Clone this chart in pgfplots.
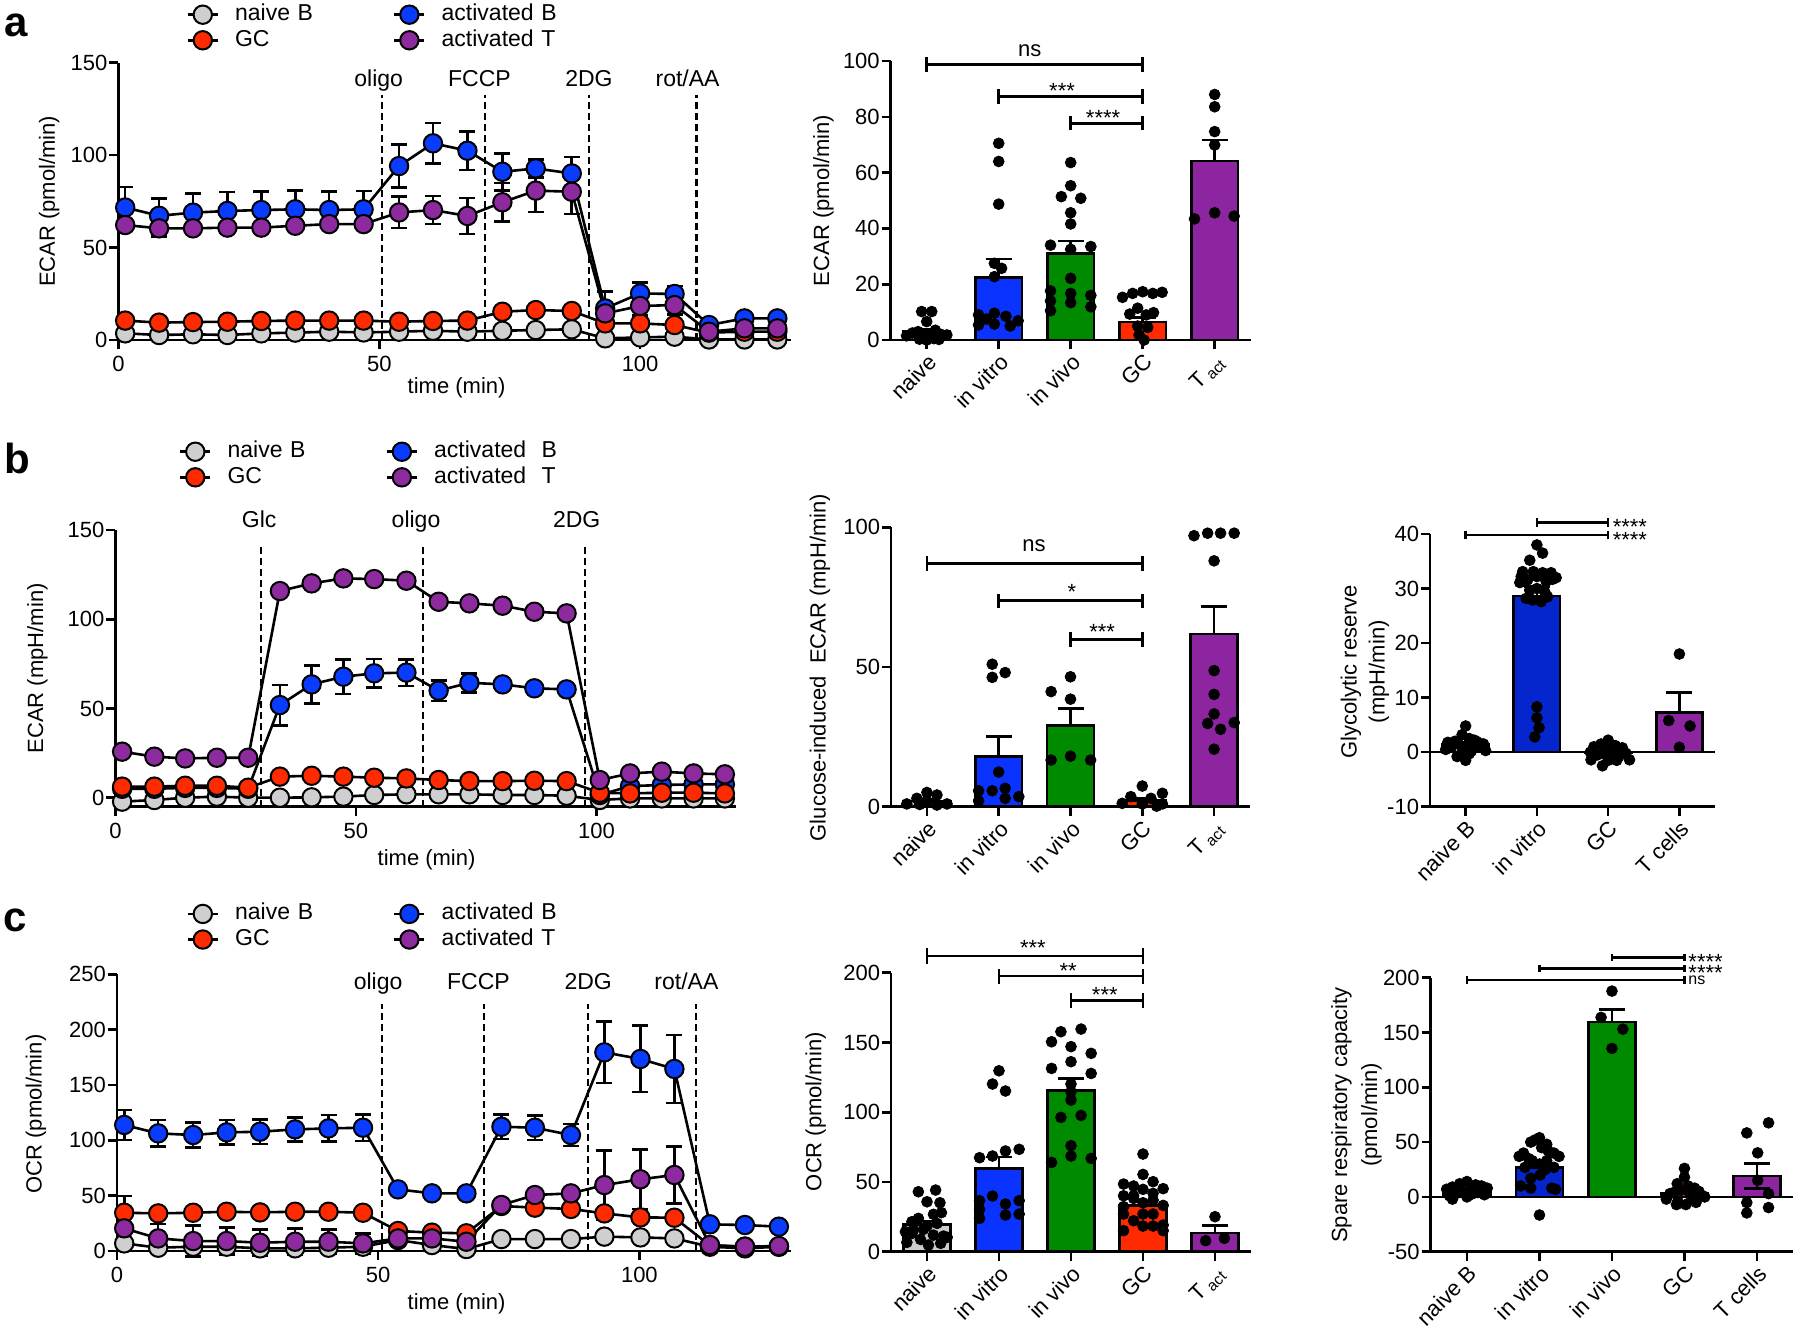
\documentclass[border=0pt]{standalone}
\usepackage{pgfplots}
\pgfplotsset{compat=1.18}
\usepackage{fontspec}
\setmainfont{Liberation Sans}

\definecolor{grayM}{HTML}{CFCFCF}
\definecolor{redM}{HTML}{FF2B00}
\definecolor{blueM}{HTML}{0A3CFF}
\definecolor{purpleM}{HTML}{8C2A9E}
\definecolor{blueB}{HTML}{0A33FF}
\definecolor{blueD}{HTML}{0426CC}
\definecolor{greenB}{HTML}{008A00}
\definecolor{redB}{HTML}{FF2A00}
\definecolor{purpleB}{HTML}{8E25A0}
\definecolor{grayB}{HTML}{CCCCCC}

\newcommand\fs{\fontsize{11}{13}\selectfont}
\newcommand\fl{\fontsize{11.5}{13}\selectfont}
\newcommand\brk[5]{\draw[line width=1.3pt] (axis cs:#1,#3) -- (axis cs:#1,#5) (axis cs:#1,#4) -- (axis cs:#2,#4) (axis cs:#2,#3) -- (axis cs:#2,#5);}

\pgfplotsset{
  gp/.style={scale only axis, axis lines=left, axis line style={-, line width=1.3pt},
    tick style={line width=1.3pt, black}, tick align=outside, major tick length=4.5pt,
    clip=false, ticklabel style={font=\fs}, label style={font=\fs},
    yticklabel style={inner sep=0.8pt},
    /pgf/number format/assume math mode=true, minor tick num=0},
  glc/.style={gp, xmin=0, xmax=129, xtick={0,50,100}, xlabel={time (min)},
    legend columns=2, legend cell align=left,
    legend image code/.code={\draw[mark repeat=2,mark phase=2,##1] plot coordinates {(0pt,0pt) (7.5pt,0pt) (15pt,0pt)};},
    legend style={draw=none, fill=none, anchor=west, inner sep=0pt, outer sep=0pt, row sep=1.8pt,
      nodes={inner sep=0pt, text width=70pt, align=left, font=\fl, text height=8.5pt, text depth=2.5pt},
      /tikz/every odd column/.append style={column sep=8pt},
      /tikz/every even column/.append style={column sep=9pt}}},
  gser/.style={black, line width=1.3pt, mark=*, mark size=4.6pt, mark options={fill=#1, draw=black, line width=1pt, solid}},
  gerr/.style={error bars/.cd, y dir=both, y explicit, error bar style={line width=1.3pt, black}, error mark options={rotate=90, line width=1.3pt, black, mark size=4pt}},
  gvl/.style={black, line width=1.1pt, dash pattern=on 3.5pt off 2pt, forget plot},
  gbc/.style={gp, xmin=-0.5, xmax=4.5, xtick={0,...,4}, xticklabel style={rotate=45, anchor=north east, inner sep=1pt}},
  gbar/.style={ybar, bar width=0.65, bar shift=0pt, fill=#1, draw=black, line width=1.3pt, error bars/.cd, y dir=plus, y explicit, error bar style={line width=1.3pt, black}, error mark options={rotate=90, line width=1.3pt, black, mark size=6.5pt}},
  gdots/.style={only marks, mark=*, mark size=2.7pt, black},
}

\begin{document}
\begin{tikzpicture}
\useasboundingbox (0pt,0pt) rectangle (900pt,-665pt);
\node[font=\bfseries\fontsize{21}{24}\selectfont] at (8.15pt,-12.5pt) {a};
\node[font=\bfseries\fontsize{21}{24}\selectfont] at (8.5pt,-229pt) {b};
\node[font=\bfseries\fontsize{21}{24}\selectfont] at (7.8pt,-460pt) {c};

% ---------------- a: line chart
\begin{axis}[glc, at={(59.2pt,-170pt)}, anchor=south west, width=336.5pt, height=138.65pt,
  ymin=0, ymax=150, ytick={0,50,100,150}, ylabel={ECAR (pmol/min)},
  ylabel style={at={(axis description cs:-0.103,0.5)}, anchor=center},
  xlabel style={at={(axis description cs:0.5025,-0.173)}, anchor=center},
  legend style={at={(axis description cs:0.1012,1.127)}}]
\addlegendimage{gser=grayM}\addlegendentry{naive B}
\addlegendimage{gser=blueM}\addlegendentry{activated B}
\addlegendimage{gser=redM}\addlegendentry{GC}
\addlegendimage{gser=purpleM}\addlegendentry{activated T}
\addplot[gvl] coordinates {(50.6,0) (50.6,132.5)};
\addplot[gvl] coordinates {(70.2,0) (70.2,132.5)};
\addplot[gvl] coordinates {(90.2,0) (90.2,132.5)};
\addplot[gvl] coordinates {(110.8,0) (110.8,132.5)};
\addplot[gser=grayM, forget plot] coordinates {(1.3,3.6) (7.8,2.7) (14.3,3.1) (20.9,2.7) (27.4,3.6) (33.9,4.0) (40.4,4.5) (47.0,4.1) (53.8,4.5) (60.3,5.0) (66.9,4.5) (73.6,5.0) (80.0,5.4) (86.9,5.8) (93.3,0.9) (100.0,1.4) (106.6,1.8) (113.2,0.3) (120.0,0.3) (126.3,0.3)};
\addplot[gser=blueM, forget plot, gerr] coordinates {(1.3,71.7) +- (0,11) (7.8,67.2) +- (0,9.5) (14.3,68.9) +- (0,10.4) (20.9,69.8) +- (0,10.2) (27.4,70.3) +- (0,10) (33.9,70.7) +- (0,10.3) (40.4,70.3) +- (0,10) (47.0,70.7) +- (0,10) (53.8,94.1) +- (0,11.5) (60.3,106.4) +- (0,11) (66.9,102.4) +- (0,10.5) (73.6,91.0) +- (0,10) (80.0,92.8) +- (0,5) (86.9,90.1) +- (0,9) (93.3,17.1) +- (0,9) (100.0,25.2) +- (0,6) (106.6,24.9) +- (0,4.3) (113.2,8.1) +- (0,1) (120.0,11.7) +- (0,1) (126.3,11.7) +- (0,1)};
\addplot[gser=redM, forget plot] coordinates {(1.3,10.5) (7.8,9.4) (14.3,9.7) (20.9,9.9) (27.4,10.3) (33.9,10.5) (40.4,10.5) (47.0,10.5) (53.8,9.9) (60.3,10.3) (66.9,10.5) (73.6,15.3) (80.0,16.2) (86.9,15.7) (93.3,9.0) (100.0,9.0) (106.6,8.1) (113.2,4.0) (120.0,4.5) (126.3,4.5)};
\addplot[gser=purpleM, forget plot, gerr] coordinates {(1.3,62.2) +- (0,3) (7.8,60.4) +- (0,4.5) (14.3,60.4) +- (0,3) (20.9,60.8) +- (0,2.5) (27.4,60.8) +- (0,2.5) (33.9,61.8) +- (0,2) (40.4,62.7) +- (0,2) (47.0,62.7) +- (0,2) (53.8,69.0) +- (0,8.5) (60.3,70.3) +- (0,7.5) (66.9,67.1) +- (0,9.8) (73.6,74.5) +- (0,10.5) (80.0,80.8) +- (0,11.5) (86.9,80.2) +- (0,12) (93.3,14.4) +- (0,3) (100.0,18.4) +- (0,5) (106.6,18.9) +- (0,5) (113.2,4.5) +- (0,1) (120.0,6.3) +- (0,1) (126.3,6.3) +- (0,1)};
\node[font=\fl, anchor=base] at (axis cs:49.9,137) {oligo};
\node[font=\fl, anchor=base] at (axis cs:69.2,137) {FCCP};
\node[font=\fl, anchor=base] at (axis cs:90.2,137) {2DG};
\node[font=\fl, anchor=base] at (axis cs:109.1,137) {rot/AA};
\end{axis}

% ---------------- a: bar chart
\begin{axis}[gbc, at={(445.35pt,-170pt)}, anchor=south west, width=180pt, height=139.5pt,
  ymin=0, ymax=100, ytick={0,20,...,100},
  xticklabels={naive,in vitro,in vivo,GC,T\,\textsubscript{act}},
  ylabel={ECAR (pmol/min)}, ylabel style={at={(axis description cs:-0.187,0.5)}, anchor=center}]
\addplot[gbar=grayB] coordinates {(0,3.0) +- (0,1)};
\addplot[gbar=blueB] coordinates {(1,22.5) +- (0,6.5)};
\addplot[gbar=greenB] coordinates {(2,31) +- (0,4.5)};
\addplot[gbar=redB] coordinates {(3,6.5) +- (0,1.5)};
\addplot[gbar=purpleB] coordinates {(4,64.2) +- (0,7.5)};
\addplot[gdots] coordinates {(-0.07,10.2) (0.07,10.2) (0,6.6) (-0.28,1.5) (-0.2,2.5) (-0.12,3) (-0.05,1) (0.05,2) (0.12,3.5) (0.2,2) (0.28,1.8) (0.17,0.2) (0,0) (-0.1,0.3) (0.1,0.5)
 (1,70.5) (1,64) (1,48.7) (0.94,27.5) (1.04,25.7) (0.94,22.7) (0.72,9) (0.94,9.6) (1.1,8.5) (1.27,6.9) (0.72,5.4) (0.94,5.7) (1.16,5) (0.83,7.5)
 (2,63.6) (2,55.3) (1.87,51.4) (2.14,50.8) (2,45.6) (2,41.6) (1.72,34) (2,32.5) (2.28,33.5) (2,22.1) (1.72,17.6) (2,16.7) (2.28,16) (1.72,14) (2,13.4) (2.28,11.9) (1.72,10.5)
 (2.72,15.3) (2.86,16.7) (3,17.3) (3.14,16.7) (3.27,17.1) (2.93,11.4) (2.82,9.3) (3.05,9) (3.15,9.8) (2.93,5) (3.07,4.5) (2.95,1.8) (3.02,0)
 (4,88) (4,83.6) (4,74.7) (4,69.9) (4,45.6) (3.72,43.4) (4.27,44.4)};
\brk{0}{3}{96.2}{98.8}{101.4}
\brk{1}{3}{84.6}{87.2}{89.8}
\brk{2}{3}{75.1}{77.7}{80.3}
\node[font=\fs] at (axis cs:1.43,103.6) {ns};
\node[font=\fs] at (axis cs:1.88,89.4) {***};
\node[font=\fs] at (axis cs:2.45,79.6) {****};
\end{axis}

% ---------------- b: line chart
\begin{axis}[glc, at={(57.7pt,-403.3pt)}, anchor=south west, width=310.25pt, height=138.3pt,
  ymin=-5, ymax=150, ytick={0,50,100,150}, ylabel={ECAR (mpH/min)},
  ylabel style={at={(axis description cs:-0.1255,0.5)}, anchor=center},
  xlabel style={at={(axis description cs:0.5015,-0.193)}, anchor=center},
  legend style={at={(axis description cs:0.1025,1.2368)}}]
\addlegendimage{gser=grayM}\addlegendentry{naive B}
\addlegendimage{gser=blueM}\addlegendentry{activated\ \ B}
\addlegendimage{gser=redM}\addlegendentry{GC}
\addlegendimage{gser=purpleM}\addlegendentry{activated\ \ T}
\addplot[gvl] coordinates {(30.2,-5) (30.2,142.5)};
\addplot[gvl] coordinates {(63.9,-5) (63.9,142.5)};
\addplot[gvl] coordinates {(97.6,-5) (97.6,142.5)};
\addplot[gser=grayM, forget plot] coordinates {(1.4,-2.2) (8.1,-1.3) (14.5,0) (21.1,0.6) (27.6,0) (34.2,0) (40.8,0.2) (47.4,0.6) (53.8,1.5) (60.5,1.9) (67.2,1.9) (73.6,1.9) (80.5,1.5) (87.1,1.5) (93.8,1.1) (100.7,-1.3) (107.0,-0.4) (113.6,-0.4) (120.2,-0.4) (126.7,-0.4)};
\addplot[gser=blueM, forget plot, gerr] coordinates {(1.4,5.0) +- (0,0) (8.1,5.0) +- (0,0) (14.5,5.5) +- (0,0) (21.1,5.5) +- (0,0) (27.6,5.0) +- (0,0) (34.2,51.9) +- (0,11.3) (40.8,63.5) +- (0,10.7) (47.4,67.8) +- (0,9.7) (53.8,69.7) +- (0,8) (60.5,70.1) +- (0,7.5) (67.2,60.0) +- (0,5.8) (73.6,64.4) +- (0,5.3) (80.5,63.5) +- (0,1) (87.1,61.3) +- (0,1) (93.8,60.7) +- (0,1) (100.7,1.5) +- (0,0) (107.0,6.5) +- (0,0) (113.6,7.1) +- (0,0) (120.2,7.5) +- (0,0) (126.7,7.5) +- (0,0)};
\addplot[gser=redM, forget plot] coordinates {(1.4,6.2) (8.1,6.2) (14.5,6.7) (21.1,6.7) (27.6,5.6) (34.2,11.8) (40.8,12.3) (47.4,11.8) (53.8,11.2) (60.5,10.8) (67.2,9.9) (73.6,9.3) (80.5,9.3) (87.1,9.5) (93.8,9.3) (100.7,2.8) (107.0,2.4) (113.6,2.8) (120.2,2.8) (126.7,2.4)};
\addplot[gser=purpleM, forget plot] coordinates {(1.4,25.8) (8.1,23) (14.5,22) (21.1,22.4) (27.6,22.4) (34.2,115.8) (40.8,120.1) (47.4,122.9) (53.8,122.5) (60.5,121.6) (67.2,109.8) (73.6,108.9) (80.5,107.6) (87.1,104.2) (93.8,103.3) (100.7,9.9) (107.0,13.6) (113.6,14.6) (120.2,13.6) (126.7,13.1)};
\node[font=\fl, anchor=base] at (axis cs:29.9,151.5) {Glc};
\node[font=\fl, anchor=base] at (axis cs:62.5,151.5) {oligo};
\node[font=\fl, anchor=base] at (axis cs:95.9,151.5) {2DG};
\end{axis}

% ---------------- b: bar chart
\begin{axis}[gbc, at={(445.5pt,-403.35pt)}, anchor=south west, width=179.5pt, height=139.7pt,
  ymin=0, ymax=100, ytick={0,50,100},
  xticklabels={naive,in vitro,in vivo,GC,T\,\textsubscript{act}},
  ylabel={Glucose-induced\ \ ECAR (mpH/min)}, ylabel style={at={(axis description cs:-0.198,0.498)}, anchor=center}]
\addplot[gbar=grayB] coordinates {(0,2.0) +- (0,0.6)};
\addplot[gbar=blueB] coordinates {(1,17.9) +- (0,7.2)};
\addplot[gbar=greenB] coordinates {(2,29) +- (0,6.2)};
\addplot[gbar=redB] coordinates {(3,2.2) +- (0,0.8)};
\addplot[gbar=purpleB] coordinates {(4,61.8) +- (0,9.8)};
\addplot[gdots] coordinates {(0,5.1) (0.14,4.2) (-0.14,3) (0,2) (-0.28,1) (0.28,1) (0.14,0.6) (-0.1,0.8)
 (0.91,51) (1.09,48) (0.91,46.3) (1,12.4) (0.72,5.7) (0.91,5.7) (1.09,6.6) (1.09,3) (1.28,3.6) (0.72,2.1)
 (2,46.5) (1.73,41.2) (2,38.5) (1.73,16.7) (2,18.1) (2.28,16.7)
 (3,7.4) (3.28,4.8) (2.84,3.6) (3.12,3) (2.72,1.2) (3,1) (3.28,1) (3.2,0.2)
 (3.72,97) (3.91,97.9) (4.09,97.9) (4.28,97.9) (4,88) (4,48.7) (4,40.2) (4,33.2) (3.91,29.8) (4.28,30.1) (4.09,27.7) (4,20.6)};
\brk{0}{3}{84.5}{87.1}{89.7}
\brk{1}{3}{71.1}{73.7}{76.3}
\brk{2}{3}{57.3}{59.9}{62.5}
\node[font=\fs] at (axis cs:1.49,93.3) {ns};
\node[font=\fs] at (axis cs:2.02,76.9) {*};
\node[font=\fs] at (axis cs:2.44,62.7) {***};
\end{axis}

% ---------------- b: glycolytic reserve
\begin{axis}[gbc, xmax=3.5, xtick={0,...,3}, at={(715pt,-403.35pt)}, anchor=south west, width=142.5pt, height=136.35pt,
  ymin=-10, ymax=40, ytick={-10,0,...,40},
  xticklabels={naive B,in vitro,GC,T cells},
  ylabel={Glycolytic reserve\\[1pt](mpH/min)}, ylabel style={at={(axis description cs:-0.228,0.495)}, anchor=center, align=center}]
\draw[line width=1.3pt] (axis cs:-0.5,0) -- (axis cs:3.5,0);
\addplot[gbar=grayB] coordinates {(0,1.4) +- (0,0.4)};
\addplot[gbar=blueD] coordinates {(1,28.6) +- (0,1.8)};
\addplot[gbar=redB] coordinates {(2,-0.1) +- (0,0.3)};
\addplot[gbar=purpleB] coordinates {(3,7.3) +- (0,3.6)};
\addplot[gdots] coordinates {(0,4.8) (-0.05,3.2) (0.05,2.5) (-0.15,2) (0.15,2) (-0.25,1.8) (0.25,1.5) (-0.1,1.5) (0.1,1.2) (-0.2,1) (0.2,1) (0,0.8) (-0.28,0.5) (0.28,0.3) (-0.05,0) (0.05,-0.3) (-0.12,-0.8) (0,-1.5) (0.12,2.2) (0.2,1.6) (-0.22,1.3) (0.08,0.2)
 (1,38) (1.08,36.5) (0.9,35.2) (0.8,33.1) (0.95,33.1) (1.08,32.9) (1.2,32.9) (1.27,32) (0.76,31.1) (0.87,31.6) (1.13,31.3) (1,30) (0.9,29.7) (1.11,29.4) (0.85,28.2) (0.94,27.9) (1.06,27.6) (1.15,28.5) (1,32.2) (1.22,31.7) (0.78,32.2) (1,8.3) (1,6.3) (1.03,4.5) (0.97,2.8)
 (2,2.2) (1.9,1.5) (2.1,1.2) (1.8,1) (2.2,0.8) (1.95,0.5) (2.05,0.2) (1.75,0) (2.25,-0.2) (1.85,-0.5) (2.15,-0.8) (1.76,-1.4) (2.3,-1.4) (2,-1.5) (2.12,-1.5) (1.92,-2.5) (2.05,0.5) (1.95,-0.3)
 (3,18) (2.85,5.8) (3.15,4.8) (3,0.9)};
\brk{0}{2}{39.0}{39.8}{40.6}
\brk{1}{2}{41.3}{42.1}{42.9}
\node[font=\fs, anchor=west, inner sep=0pt] at (axis cs:2.06,38.96) {****};
\node[font=\fs, anchor=west, inner sep=0pt] at (axis cs:2.06,41.26) {****};
\end{axis}

% ---------------- c: line chart
\begin{axis}[glc, at={(58.45pt,-625.5pt)}, anchor=south west, width=337pt, height=138.35pt,
  ymin=0, ymax=250, ytick={0,50,...,250}, ylabel={OCR (pmol/min)},
  ylabel style={at={(axis description cs:-0.12,0.495)}, anchor=center},
  xlabel style={at={(axis description cs:0.504,-0.19)}, anchor=center},
  legend style={at={(axis description cs:0.1033,1.172)}}]
\addlegendimage{gser=grayM}\addlegendentry{naive B}
\addlegendimage{gser=blueM}\addlegendentry{activated B}
\addlegendimage{gser=redM}\addlegendentry{GC}
\addlegendimage{gser=purpleM}\addlegendentry{activated T}
\addplot[gvl] coordinates {(50.8,0) (50.8,222.9)};
\addplot[gvl] coordinates {(70.3,0) (70.3,222.9)};
\addplot[gvl] coordinates {(90.2,0) (90.2,222.9)};
\addplot[gvl] coordinates {(110.8,0) (110.8,222.9)};
\addplot[gser=grayM, forget plot] coordinates {(1.4,6.9) (7.9,3) (14.6,3.9) (21.0,3.9) (27.4,2.4) (34.1,2.4) (40.5,3) (47.1,3.9) (53.8,9.9) (60.3,5.4) (66.9,1.8) (73.6,10.8) (80.0,10.8) (86.9,10.8) (93.3,13) (100.2,12.3) (106.7,11.4) (113.5,3.9) (120.2,2.4) (126.7,3.9)};
\addplot[gser=blueM, forget plot, gerr] coordinates {(1.4,113.9) +- (0,13.5) (7.9,106.3) +- (0,12) (14.6,104.8) +- (0,11.5) (21.0,107.2) +- (0,11) (27.4,107.8) +- (0,11) (34.1,109.9) +- (0,11) (40.5,110.8) +- (0,12) (47.1,111.4) +- (0,12) (53.8,55.7) +- (0,2) (60.3,52.1) +- (0,2) (66.9,52.1) +- (0,2) (73.6,112.3) +- (0,11) (80.0,111.4) +- (0,11) (86.9,104.8) +- (0,10) (93.3,179.5) +- (0,27.7) (100.2,173.5) +- (0,30) (106.7,164.5) +- (0,30.7) (113.5,24.1) +- (0,1) (120.2,23.5) +- (0,1) (126.7,22) +- (0,1)};
\addplot[gser=redM, forget plot, gerr] coordinates {(1.4,34.6) +- (0,15) (7.9,34) +- (0,3) (14.6,34.6) +- (0,3) (21.0,35.5) +- (0,3) (27.4,34.9) +- (0,3) (34.1,35.5) +- (0,3) (40.5,35.5) +- (0,3) (47.1,34.6) +- (0,3) (53.8,18.1) +- (0,2) (60.3,16.6) +- (0,2) (66.9,16) +- (0,2) (73.6,40.7) +- (0,3) (80.0,39.2) +- (0,3) (86.9,38) +- (0,3) (93.3,34) +- (0,3) (100.2,30.4) +- (0,3) (106.7,30.1) +- (0,3) (113.5,5) +- (0,1) (120.2,4) +- (0,1) (126.7,4) +- (0,1)};
\addplot[gser=purpleM, forget plot, gerr] coordinates {(1.4,20.5) +- (0,10) (7.9,11.4) +- (0,13) (14.6,9) +- (0,14) (21.0,9) +- (0,12) (27.4,7.5) +- (0,12) (34.1,8.4) +- (0,12) (40.5,8.4) +- (0,11) (47.1,6.9) +- (0,9) (53.8,11.4) +- (0,3) (60.3,11.4) +- (0,3) (66.9,8.4) +- (0,3) (73.6,41.6) +- (0,3) (80.0,50.6) +- (0,3) (86.9,52.1) +- (0,3) (93.3,59.6) +- (0,31) (100.2,64.8) +- (0,27) (106.7,68.7) +- (0,25.6) (113.5,5.4) +- (0,1) (120.2,3.9) +- (0,1) (126.7,4.5) +- (0,1)};
\node[font=\fl, anchor=base] at (axis cs:50,236) {oligo};
\node[font=\fl, anchor=base] at (axis cs:69.2,236) {FCCP};
\node[font=\fl, anchor=base] at (axis cs:90.2,236) {2DG};
\node[font=\fl, anchor=base] at (axis cs:109,236) {rot/AA};
\end{axis}

% ---------------- c: bar chart
\begin{axis}[gbc, at={(445.5pt,-625.85pt)}, anchor=south west, width=180pt, height=139.5pt,
  ymin=0, ymax=200, ytick={0,50,...,200},
  xticklabels={naive,in vitro,in vivo,GC,T\,\textsubscript{act}},
  ylabel={OCR (pmol/min)}, ylabel style={at={(axis description cs:-0.209,0.502)}, anchor=center}]
\addplot[gbar=grayB] coordinates {(0,19.6) +- (0,2.5)};
\addplot[gbar=blueB] coordinates {(1,59.5) +- (0,8.5)};
\addplot[gbar=greenB] coordinates {(2,115.5) +- (0,8.5)};
\addplot[gbar=redB] coordinates {(3,33) +- (0,2.8)};
\addplot[gbar=purpleB] coordinates {(4,13.5) +- (0,5.5)};
\addplot[gdots] coordinates {(-0.12,43) (0.12,44.2) (0,35.8) (0.18,35.1) (0.2,28) (-0.12,23.9) (-0.21,21.5) (0,18.4) (-0.3,14.3) (0.09,11.9) (0.28,10.3) (-0.28,6.7) (0.02,4.8) (0.19,6) (-0.19,15.5) (0.14,20.3) (-0.09,8.8) (0.23,11.2) (0.09,26.8) (-0.05,16) (-0.21,13.1)
 (1,129.7) (0.91,120.2) (1.09,115.2) (1.28,73.4) (1.09,72.2) (0.91,68.6) (0.73,67.4) (0.91,39.9) (0.73,36.6) (1.28,36.6) (1.09,34.2) (0.73,30.3) (1.09,26.3) (1.28,27) (0.73,23.9)
 (2.14,159.6) (1.86,157.7) (1.73,150.5) (2,147) (2.28,142.2) (2,136.2) (1.73,131.4) (2.28,127.8) (2,120.2) (2,114.7) (2,108.7) (1.86,96.3) (2.14,97.7) (2,76) (2,68.6) (2.28,66.9) (1.73,64)
 (3,70) (3,55.4) (2.73,48.5) (3.14,50.2) (2.87,47.1) (3.28,45.2) (3,44.7) (3.14,41.8) (2.73,40.1) (2.87,40.1) (3,35.1) (3.28,33.2) (2.73,27) (3,27) (3.14,27) (2.87,22.2) (3.28,19.1) (3,18.4) (3.14,18.4) (2.73,15.1) (3.28,15.1) (2.73,32.3) (3.14,37) (2.87,38.2)
 (4,25.1) (3.87,7.9) (4.13,9.6)};
\brk{0}{3}{206.6}{212}{217.4}
\brk{1}{3}{192.2}{197.6}{203}
\brk{2}{3}{174.6}{180}{185.4}
\node[font=\fs] at (axis cs:1.47,217.7) {***};
\node[font=\fs] at (axis cs:1.96,201) {**};
\node[font=\fs] at (axis cs:2.47,184.3) {***};
\end{axis}

% ---------------- c: spare respiratory capacity
\begin{axis}[gbc, at={(715.35pt,-625.85pt)}, anchor=south west, width=181.25pt, height=137pt,
  ymin=-50, ymax=200, ytick={-50,0,...,200},
  xticklabels={naive B,in vitro,in vivo,GC,T cells},
  ylabel={Spare respiratory capacity\\[2pt](pmol/min)}, ylabel style={at={(axis description cs:-0.205,0.499)}, anchor=center, align=center}]
\draw[line width=1.3pt] (axis cs:-0.5,0) -- (axis cs:4.5,0);
\addplot[gbar=grayB] coordinates {(0,4.9) +- (0,1)};
\addplot[gbar=blueD] coordinates {(1,27) +- (0,3)};
\addplot[gbar=greenB] coordinates {(2,159.5) +- (0,11.5)};
\addplot[gbar=redB] coordinates {(3,3) +- (0,1.5)};
\addplot[gbar=purpleB, y dir=both] coordinates {(4,19) +- (0,11.5)};
\addplot[gdots] coordinates {(0,14) (-0.1,12) (0.12,11) (0.2,10) (-0.2,9) (0.28,8) (-0.28,7) (0.06,6) (-0.06,5) (0.15,4) (-0.15,3) (0.24,2) (-0.24,1) (0,0) (-0.2,-2) (0.24,8.5) (-0.1,6.5) (0.1,3.5) (0.03,1.5)
 (1,54) (0.94,52) (0.88,50) (1.1,48) (1.03,45) (0.78,40) (1.2,40) (0.72,37) (1.27,37) (0.9,33) (1.1,33) (1,30) (0.8,27) (1.2,27) (1.08,25) (1.01,20) (0.88,17) (0.74,10) (1.17,8) (0.88,8) (1.22,7) (0.85,35) (1.12,42) (1,-16.5)
 (2,187.8) (1.85,163.8) (2.15,153.1) (2,135.5)
 (3,26) (3,18) (2.9,12) (3.05,10) (3.14,8) (2.95,6) (3.2,5) (2.8,3) (3.08,2) (3.25,1) (3.28,0) (2.75,-2) (2.91,-4) (2.89,-7) (3.02,-7) (3.16,-5) (2.85,4) (3.1,-1)
 (4.16,67.6) (3.86,58.4) (4.01,40.2) (4.01,15.2) (4.16,3) (3.86,-5.2) (4.16,-9.7) (3.86,-14.6)};
\brk{0}{3}{194.4}{197.9}{201.4}
\brk{1}{3}{205}{208.5}{212}
\brk{2}{3}{215.1}{218.6}{222.1}
\node[font=\fontsize{8}{9}\selectfont, anchor=west, inner sep=0pt] at (axis cs:3.05,197.9) {ns};
\node[font=\fs, anchor=west, inner sep=0pt] at (axis cs:3.05,204.1) {****};
\node[font=\fs, anchor=west, inner sep=0pt] at (axis cs:3.05,214.2) {****};
\end{axis}
\end{tikzpicture}
\end{document}
